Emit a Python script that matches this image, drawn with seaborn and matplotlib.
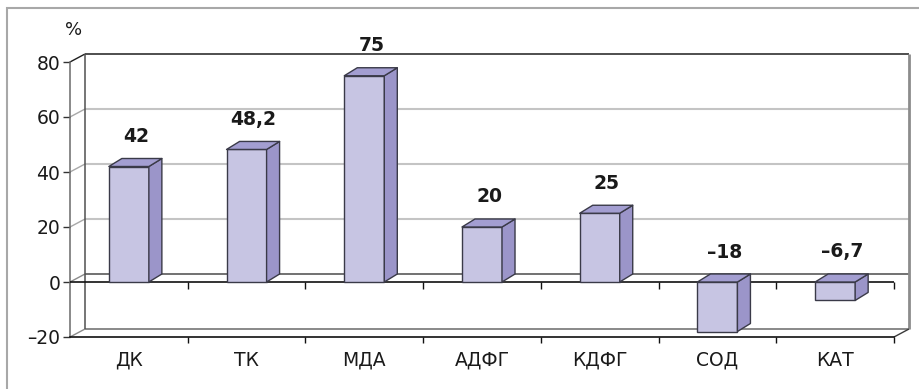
import matplotlib
matplotlib.use("Agg")
import matplotlib.pyplot as plt
import matplotlib.transforms as mtransforms
from matplotlib.lines import Line2D
from matplotlib.patches import Polygon, Rectangle
import numpy as np
import seaborn as sns

# ---- data -------------------------------------------------------------
categories = ["ДК", "ТК", "МДА", "АДФГ", "КДФГ", "СОД", "КАТ"]
values = [42, 48.2, 75, 20, 25, -18, -6.7]
y_ticks = [-20, 0, 20, 40, 60, 80]
y_tick_labels = ["\u201320", "0", "20", "40", "60", "80"]
unit_label = "%"

# ---- style ------------------------------------------------------------
FRONT = "#C7C5E3"
SIDE = "#9B95C9"
TOP = "#A39ED1"
EDGE = "#3A3A48"
TEXT = "#1A1A1A"

W, H, DPI = 919, 389, 100
WALL_D = np.array([15.0, 8.0])   # depth of the back wall, pixels
BAR_D = np.array([13.0, 8.0])    # depth of each column, pixels

sns.set_style("white")
plt.rcParams["font.family"] = ["DejaVu Sans"]

fig = plt.figure(figsize=(W / DPI, H / DPI), dpi=DPI)
ax = fig.add_axes([70 / W, 52 / H, 824 / W, 275 / H])

sns.barplot(x=categories, y=values, color=FRONT, saturation=1, width=0.34,
            edgecolor=EDGE, linewidth=1.0, ax=ax, zorder=3)

n = len(categories)
ax.set_xlim(-0.5, n - 0.5)
ax.set_ylim(y_ticks[0], y_ticks[-1])
ax.set_xlabel("")
ax.set_ylabel("")
ax.set_facecolor("none")

ident = mtransforms.IdentityTransform()


def disp(x, y):
    return ax.transData.transform((x, y))


def seg(p0, p1, color, lw=1.0, z=1):
    ax.add_line(Line2D([p0[0], p1[0]], [p0[1], p1[1]], color=color, lw=lw,
                       transform=ident, clip_on=False, zorder=z,
                       solid_capstyle="butt"))


x_lo, x_hi = -0.5, n - 0.5

# back wall: gridlines and the diagonals joining them to the value axis
for t in y_ticks:
    if t == y_ticks[-1]:
        gcol, dcol, lw = "#1E1E1E", "#1E1E1E", 1.1
    elif t == y_ticks[0]:
        gcol, dcol, lw = "#6A6A6A", "#8A8A8A", 1.1
    elif t == 0:
        gcol, dcol, lw = "#4A4A4A", "#8A8A8A", 1.1
    else:
        gcol, dcol, lw = "#C4C4C4", "#A8A8A8", 1.5
    front = disp(x_lo, t)
    seg(front + WALL_D, disp(x_hi, t) + WALL_D, gcol, lw, z=0.5)
    seg(front, front + WALL_D, dcol, 1.0, z=0.5)

# back wall edges
seg(disp(x_lo, y_ticks[0]) + WALL_D, disp(x_lo, y_ticks[-1]) + WALL_D, "#505050", 1.1, z=0.6)
seg(disp(x_hi, y_ticks[0]) + WALL_D, disp(x_hi, y_ticks[-1]) + WALL_D, "#8C8C8C", 2.0, z=0.6)
seg(disp(x_hi, y_ticks[0]), disp(x_hi, y_ticks[0]) + WALL_D, "#3A3A3A", 1.0, z=0.6)

# category axis at zero with its boundary ticks
boundaries = np.arange(n + 1) - 0.5
ax.axhline(0, color="#111111", lw=1.2, zorder=2)
ax.plot(boundaries[1:], np.zeros(n), ls="none", marker=3, ms=5,
        mew=1.0, color="#111111", clip_on=False, zorder=2)

# 3-D sides and tops of the columns
for patch, v in zip(ax.patches, values):
    x0, w = patch.get_x(), patch.get_width()
    y0, h = patch.get_y(), patch.get_height()
    top, bot = max(y0, y0 + h), min(y0, y0 + h)
    fl_top = disp(x0, top)
    fr_top = disp(x0 + w, top)
    fr_bot = disp(x0 + w, bot)
    side = Polygon([fr_bot, fr_top, fr_top + BAR_D, fr_bot + BAR_D],
                   closed=True, fc=SIDE, ec=EDGE, lw=1.0, transform=ident,
                   clip_on=False, zorder=3.2, joinstyle="round")
    lid = Polygon([fl_top, fr_top, fr_top + BAR_D, fl_top + BAR_D],
                  closed=True, fc=TOP, ec=EDGE, lw=1.0, transform=ident,
                  clip_on=False, zorder=3.2, joinstyle="round")
    ax.add_patch(side)
    ax.add_patch(lid)
    label = f"{v:g}".replace(".", ",").replace("-", "\u2013")
    ax.annotate(label, xy=(x0 + w / 2, top), xytext=(7, 30),
                textcoords="offset pixels", ha="center", va="center",
                fontsize=13.5, fontweight="bold", color=TEXT, zorder=5,
                annotation_clip=False)

# axes frame
for side_name in ("top", "right"):
    ax.spines[side_name].set_visible(False)
ax.spines["left"].set_color("#6A6A6A")
ax.spines["left"].set_linewidth(1.1)
ax.spines["bottom"].set_color("#111111")
ax.spines["bottom"].set_linewidth(1.2)
ax.spines["left"].set_zorder(1)
ax.spines["bottom"].set_zorder(1)

ax.set_yticks(y_ticks)
ax.set_yticklabels(y_tick_labels)
ax.tick_params(axis="y", which="major", direction="out", length=5, width=1.0,
               color="#333333", pad=2, labelsize=13.5, labelcolor=TEXT, left=True)
ax.set_xticks(range(n))
ax.set_xticklabels(categories)
ax.set_xticks(boundaries[1:], minor=True)
ax.tick_params(axis="x", which="major", length=0, pad=10, labelsize=13.5,
               labelcolor=TEXT, bottom=True)
ax.tick_params(axis="x", which="minor", direction="out", length=4.5, width=1.0,
               color="#111111", bottom=True)
ax.grid(False)

# unit label above the value axis
fig.text(74 / W, 1 - 30 / H, unit_label, ha="center", va="center",
         fontsize=13, color=TEXT)

# outer chart-area frame
fig.add_artist(Rectangle((7 / W, -0.1), 1.2, 1 - 8 / H + 0.1,
                         transform=fig.transFigure, fill=False,
                         ec="#A8A8A8", lw=1.5, zorder=0))

fig.savefig("out.png", dpi=DPI)
